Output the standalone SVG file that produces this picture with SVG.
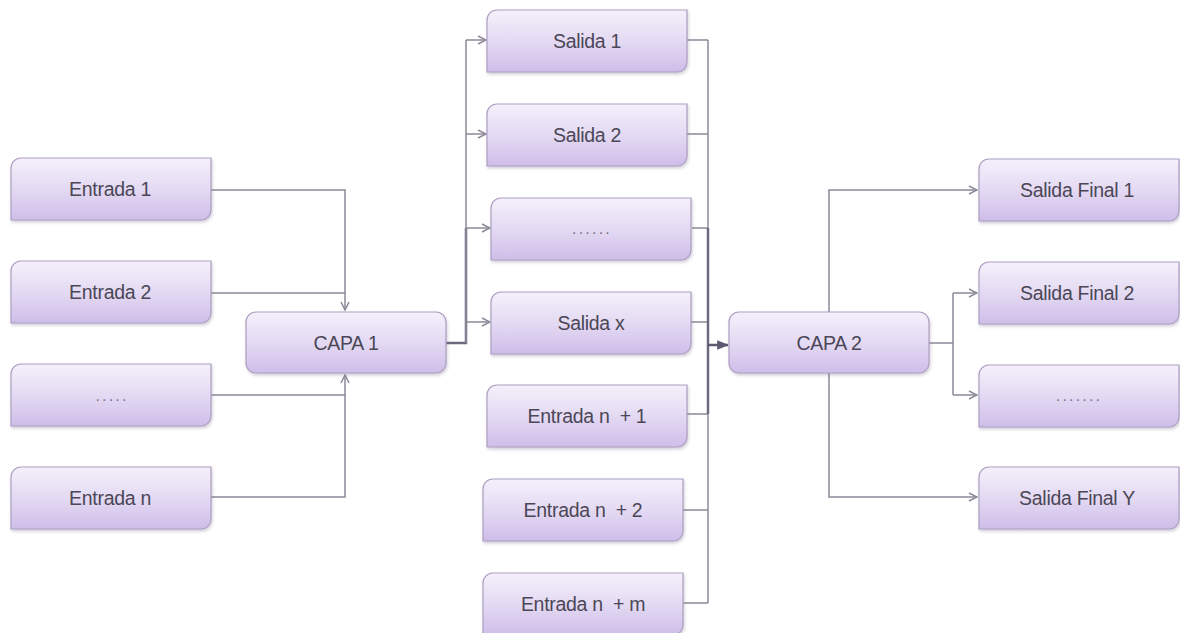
<svg xmlns="http://www.w3.org/2000/svg" width="1180" height="633" viewBox="0 0 1180 633">
<defs>
<linearGradient id="g" x1="0" y1="0" x2="0" y2="1">
<stop offset="0" stop-color="#f4f0fb"/>
<stop offset="0.5" stop-color="#e4daf3"/>
<stop offset="1" stop-color="#cfbde9"/>
</linearGradient>
<filter id="sh" x="-5%" y="-10%" width="115%" height="130%">
<feDropShadow dx="1" dy="2" stdDeviation="1.5" flood-color="#6b6080" flood-opacity="0.3"/>
</filter>
<path id="box" d="M10,0 H200 V52 A10,10 0 0 1 190,62 H0 V10 A10,10 0 0 1 10,0 Z"/>
<marker id="a" viewBox="0 0 10 10" refX="9" refY="5" markerWidth="10" markerHeight="10" markerUnits="userSpaceOnUse" orient="auto">
<path d="M1,1 L9,5 L1,9" fill="none" stroke="#8d8899" stroke-width="1.5"/>
</marker>
<marker id="af" viewBox="0 0 10 10" refX="9" refY="5" markerWidth="12" markerHeight="12" markerUnits="userSpaceOnUse" orient="auto">
<path d="M0,1 L10,5 L0,9 Z" fill="#5e5870"/>
</marker>
</defs>
<style>
.n use, .n rect { fill: url(#g); stroke: #ac9fc2; stroke-width: 1.2; filter: url(#sh); }
.t { font-family: "Liberation Sans", Arial, sans-serif; font-size: 19.5px; fill: #4b4757; text-anchor: middle; dominant-baseline: central; letter-spacing: -0.3px; white-space: pre; }
.d { font-family: "Liberation Sans", Arial, sans-serif; font-size: 16px; fill: #7d7890; text-anchor: middle; letter-spacing: 2.2px; }
.c path { fill: none; stroke: #8d8899; stroke-width: 1.5; }
.c .th { stroke: #6f6980; stroke-width: 2.5; }
</style>
<rect width="1180" height="633" fill="#ffffff"/>

<g class="c">
<path d="M211,190 H345 V310" marker-end="url(#a)"/>
<path d="M211,293 H345"/>
<path d="M211,395 H345"/>
<path d="M211,497 H345 V375" marker-end="url(#a)"/>
<path class="th" d="M446,343 H466 V228"/>
<path d="M466,40 V343"/>
<path d="M466,40 H486" marker-end="url(#a)"/>
<path d="M466,134 H486" marker-end="url(#a)"/>
<path d="M466,228 H490" marker-end="url(#a)"/>
<path d="M466,322 H490" marker-end="url(#a)"/>
<path d="M687,40 H708"/>
<path d="M687,134 H708"/>
<path d="M692,228 H708"/>
<path d="M691,322 H708"/>
<path d="M687,414 H708"/>
<path d="M682,510 H708"/>
<path d="M682,603 H708"/>
<path d="M708,40 V603"/>
<path class="th" d="M708,228 V414"/>
<path d="M708,345 H728" style="stroke:#5e5870;stroke-width:2.5" marker-end="url(#af)"/>
<path d="M829,312 V190 H977" marker-end="url(#a)"/>
<path d="M829,373 V497 H977" marker-end="url(#a)"/>
<path d="M929,343 H953"/>
<path d="M953,293 V395"/>
<path d="M953,293 H977" marker-end="url(#a)"/>
<path d="M953,395 H977" marker-end="url(#a)"/>
</g>

<g id="entrada1" class="n"><use href="#box" x="11" y="158"/><text class="t" x="110" y="189">Entrada 1</text></g>
<g id="entrada2" class="n"><use href="#box" x="11" y="261"/><text class="t" x="110" y="292">Entrada 2</text></g>
<g id="entrada-dots" class="n"><use href="#box" x="11" y="364"/><text class="d" x="112" y="401">.....</text></g>
<g id="entradan" class="n"><use href="#box" x="11" y="467"/><text class="t" x="110" y="498">Entrada n</text></g>

<g id="capa1" class="n"><rect x="246" y="312" width="200" height="61" rx="10"/><text class="t" x="346" y="343">CAPA 1</text></g>

<g id="salida1" class="n"><use href="#box" x="487" y="10"/><text class="t" x="587" y="41">Salida 1</text></g>
<g id="salida2" class="n"><use href="#box" x="487" y="104"/><text class="t" x="587" y="135">Salida 2</text></g>
<g id="salida-dots" class="n"><use href="#box" x="491" y="198"/><text class="d" x="592" y="234">......</text></g>
<g id="salidax" class="n"><use href="#box" x="491" y="292"/><text class="t" x="591" y="323">Salida x</text></g>
<g id="entradan1" class="n"><use href="#box" x="487" y="385"/><text class="t" x="587" y="416" xml:space="preserve">Entrada n  + 1</text></g>
<g id="entradan2" class="n"><use href="#box" x="483" y="479"/><text class="t" x="583" y="510" xml:space="preserve">Entrada n  + 2</text></g>
<g id="entradanm" class="n"><use href="#box" x="483" y="573"/><text class="t" x="583" y="604" xml:space="preserve">Entrada n  + m</text></g>

<g id="capa2" class="n"><rect x="729" y="312" width="200" height="61" rx="10"/><text class="t" x="829" y="343">CAPA 2</text></g>

<g id="salidafinal1" class="n"><use href="#box" x="979" y="159"/><text class="t" x="1077" y="190">Salida Final 1</text></g>
<g id="salidafinal2" class="n"><use href="#box" x="979" y="262"/><text class="t" x="1077" y="293">Salida Final 2</text></g>
<g id="salidafinal-dots" class="n"><use href="#box" x="979" y="365"/><text class="d" x="1079" y="401">.......</text></g>
<g id="salidafinaly" class="n"><use href="#box" x="979" y="467"/><text class="t" x="1077" y="498">Salida Final Y</text></g>
</svg>
